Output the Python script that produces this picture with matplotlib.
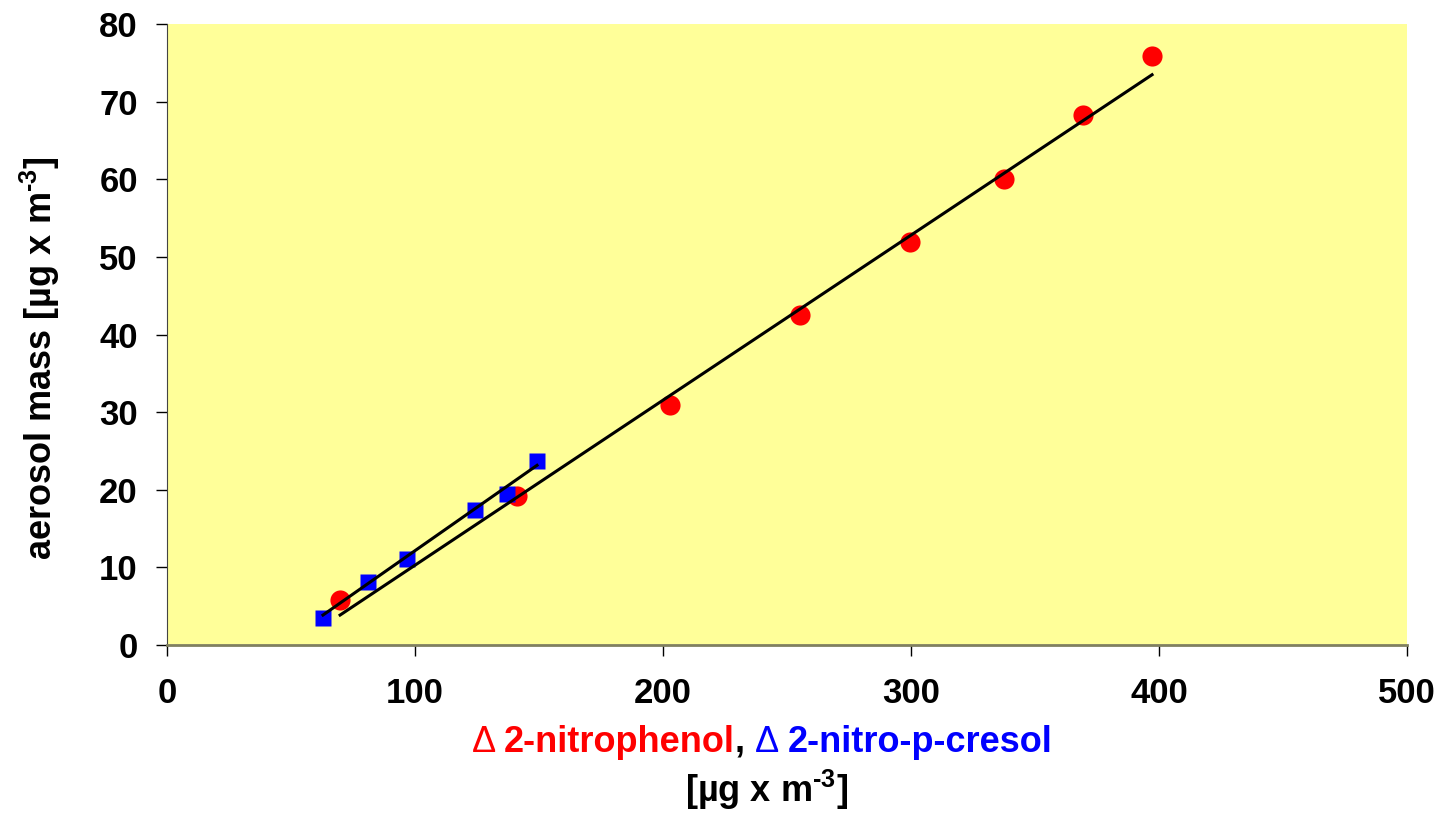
import matplotlib.pyplot as plt
import numpy as np

plt.rcParams["font.family"] = ["Liberation Sans", "DejaVu Sans"]
plt.rcParams["mathtext.default"] = "regular"

# 2-nitrophenol: reacted amount vs aerosol mass
nitrophenol_x = [69.8, 141.2, 202.8, 255.2, 299.6, 337.5, 369.4, 397.2]
nitrophenol_y = [5.8, 19.2, 30.9, 42.5, 51.9, 60.0, 68.3, 75.9]

# 2-nitro-p-cresol
cresol_x = [62.9, 81.0, 96.8, 124.2, 137.1, 149.2]
cresol_y = [3.5, 8.1, 11.1, 17.4, 19.5, 23.7]

# linear trendlines (slope, intercept)
nitrophenol_fit = (0.2126, -10.98)
cresol_fit = (0.2235, -10.2)

W, H = 1440, 815
fig = plt.figure(figsize=(W / 100, H / 100), dpi=100)
ax = fig.add_axes([167 / W, 1 - 645 / H, 1240 / W, 621 / H])
ax.set_facecolor("#FFFF99")

for xs, fit in [(nitrophenol_x, nitrophenol_fit), (cresol_x, cresol_fit)]:
    xx = np.array([min(xs), max(xs)])
    ax.plot(xx, fit[0] * xx + fit[1], color="black", lw=2.2, zorder=3)

ax.plot(nitrophenol_x, nitrophenol_y, "o", color="#FF0000", ms=14.5, mec="none", zorder=2)
ax.plot(cresol_x, cresol_y, "s", color="#0000FF", ms=12, mec="none", zorder=2)

ax.set_xlim(0, 500)
ax.set_ylim(0, 80)
ax.set_xticks(range(0, 501, 100))
ax.set_yticks(range(0, 81, 10))
ax.spines["top"].set_visible(False)
ax.spines["right"].set_visible(False)
ax.spines["left"].set_color("#444444")
ax.spines["bottom"].set_color("#808060")
ax.spines["bottom"].set_linewidth(2)
ax.tick_params(direction="out", length=8, width=1, color="black", labelsize=25)
ax.tick_params(axis="x", pad=15)
ax.tick_params(axis="y", pad=13)
for lab in ax.get_xticklabels() + ax.get_yticklabels():
    lab.set_fontweight("bold")

# unit with a short hyphen in the exponent
unit = "[µg x m$^{\u20103}$]"

fig.text(40 / W, 1 - 358 / H, "aerosol mass " + unit, fontsize=26,
         fontweight="bold", rotation=90, ha="center", va="center")

# colored x label, drawn piece by piece
parts = [("Δ ", "#FF0000", "normal"), ("2-nitrophenol", "#FF0000", "bold"),
         (", ", "black", "bold"), ("Δ ", "#0000FF", "normal"),
         ("2-nitro-p-cresol", "#0000FF", "bold")]
fig.canvas.draw()
r = fig.canvas.get_renderer()
texts = [fig.text(0, 1 - 742 / H, s, color=c, fontweight=w, fontsize=26, va="center")
         for s, c, w in parts]
widths = [t.get_window_extent(r).width for t in texts]
x0 = 762 - sum(widths) / 2
for t, w in zip(texts, widths):
    t.set_x(x0 / W)
    x0 += w
fig.text(767 / W, 1 - 790 / H, unit, fontsize=26, fontweight="bold",
         ha="center", va="center")

fig.savefig("out.png", dpi=100)
